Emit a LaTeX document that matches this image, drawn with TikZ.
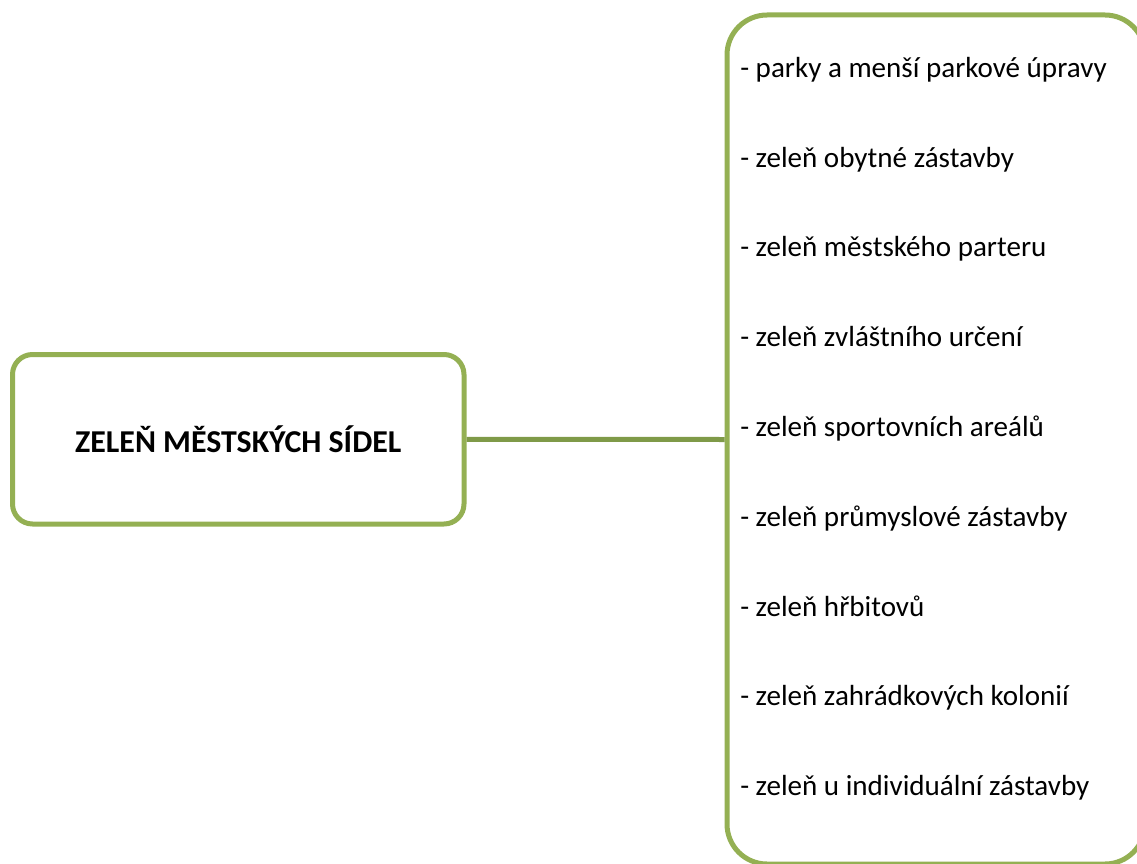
\documentclass[tikz,border=0pt]{standalone}
\usepackage{fontspec}
\setmainfont{Carlito}
\definecolor{boxgreen}{RGB}{148,176,83}
\definecolor{linegreen}{RGB}{127,154,72}
\begin{document}
\begin{tikzpicture}[x=0.75pt,y=-0.75pt,
  greenbox/.style={draw=boxgreen,line width=3.75pt,fill=white,inner sep=0pt},
  item/.style={anchor=base west,inner sep=0pt,font=\fontsize{21.8pt}{24pt}\selectfont},
  conn/.style={draw=linegreen,line width=3.75pt}]
\useasboundingbox (0,0) rectangle (1137,863);
\clip (0,0) rectangle (1137,863);
\node[greenbox,rounded corners=15pt,minimum width=451.5*0.75pt,minimum height=169.5*0.75pt,
  font=\bfseries\fontsize{23.9pt}{26pt}\selectfont] (main) at (238.25,439.25) {ZELEŇ MĚSTSKÝCH SÍDEL};
\node[greenbox,rounded corners=30pt,minimum width=418*0.75pt,minimum height=849*0.75pt] (list) at (936,439.5) {};
\draw[conn] (main.east) -- (list.west);
\foreach \t [count=\i] in {parky a menší parkové úpravy,zeleň obytné zástavby,zeleň městského parteru,zeleň zvláštního určení,zeleň sportovních areálů,zeleň průmyslové zástavby,zeleň hřbitovů,zeleň zahrádkových kolonií,zeleň u individuální zástavby}
  \node[item] (t\i) at (740,{77.3+(\i-1)*89.8}) {- \t};
\end{tikzpicture}
\end{document}
